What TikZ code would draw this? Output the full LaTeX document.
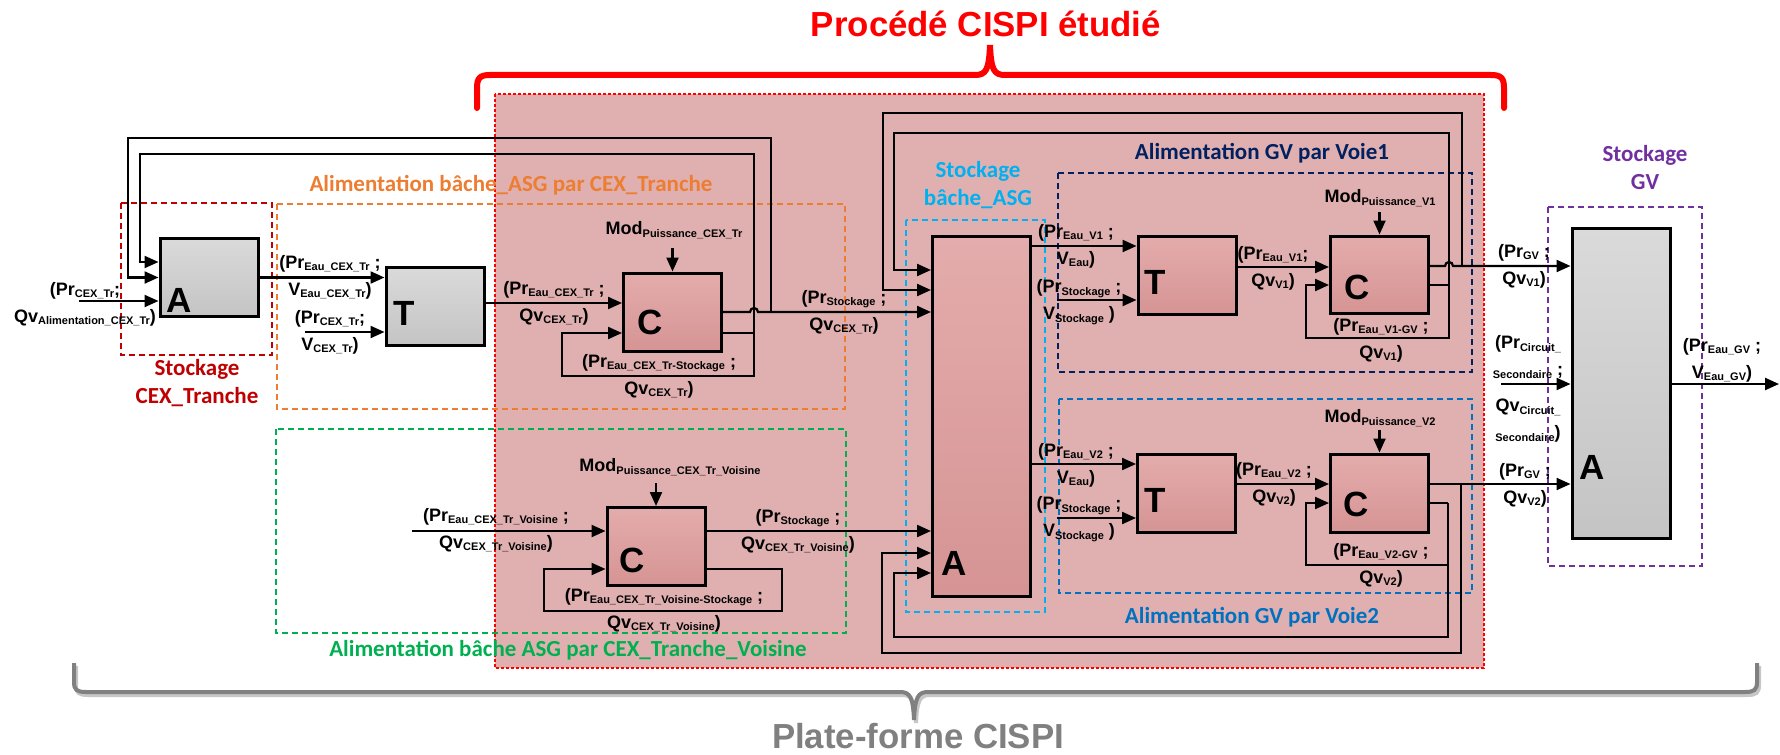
\documentclass[tikz,border=0pt]{standalone}
\usepackage{fontspec}
\setmainfont{Liberation Sans}
\newfontfamily\calibfont{Carlito}
\usetikzlibrary{arrows.meta,calc,positioning}
\definecolor{fondproc}{RGB}{224,176,176}
\definecolor{rougefonce}{RGB}{192,0,0}
\definecolor{orangeasg}{RGB}{237,125,49}
\definecolor{vertvois}{RGB}{0,176,80}
\definecolor{cyanasg}{RGB}{0,176,240}
\definecolor{marinev1}{RGB}{0,32,96}
\definecolor{bleuv2}{RGB}{0,112,192}
\definecolor{violetgv}{RGB}{112,48,160}
\definecolor{grisplat}{RGB}{128,128,128}
\definecolor{grishaut}{RGB}{218,218,218}
\definecolor{grisbas}{RGB}{196,196,196}
\definecolor{rosehaut}{RGB}{228,172,172}
\definecolor{rosebas}{RGB}{214,148,148}

% indice des grandeurs
\newcommand{\sbs}[1]{\raisebox{-1.2pt}{\fontsize{5.5pt}{6pt}\selectfont #1}}

\begin{document}
\begin{tikzpicture}[x=0.5pt, y=-0.5pt,
  bloc/.style={draw=black, line width=1.5pt, minimum width=49pt,
    minimum height=39pt, inner sep=0pt},
  blocgris/.style={bloc, top color=grishaut, bottom color=grisbas},
  blocrose/.style={bloc, top color=rosehaut, bottom color=rosebas},
  lettre/.style={font=\fontsize{17.5}{18}\selectfont\bfseries, inner sep=0pt},
  lien/.style={line width=1.1pt, -{Triangle[length=7pt,width=6pt]}},
  trait/.style={line width=1.1pt},
  etiq/.style={font=\fontsize{9}{13.5}\selectfont\bfseries, align=center,
    inner sep=0pt},
  groupe/.style={line width=1.2pt, dash pattern=on 3pt off 2pt},
  titregrp/.style={font=\calibfont\fontsize{11.5}{14}\selectfont\bfseries,
    align=center, inner sep=0pt},
]
  \useasboundingbox (0,0) rectangle (1780,754);

  % === PROCEDE CISPI ETUDIE ===
  \fill[fondproc] (495,94) rectangle (1484,668);
  \draw[red, line width=1pt, dash pattern=on 1.5pt off 1pt] (495,94) rectangle (1484,668);
  \draw[red, line width=3pt, line cap=round] (477,108) -- (477,88)
    .. controls (477,78) and (480,75) .. (490,75) -- (975,75)
    .. controls (986,75) and (989,70) .. (990,45)
    .. controls (991,70) and (994,75) .. (1005,75) -- (1491,75)
    .. controls (1501,75) and (1504,78) .. (1504,88) -- (1504,108);
  \node[font=\fontsize{17.4}{20}\selectfont\bfseries, text=red, anchor=base]
    (titre) at (986,37) {Procédé CISPI étudié};

  % Groupes (cadres en pointillés)
  \foreach \col/\xa/\ya/\xb/\yb in {rougefonce/121/203/272/355,
      orangeasg/277/204/845/409, vertvois/276/429/846/633,
      cyanasg/906/220/1045/612, marinev1/1058/173/1472/372,
      bleuv2/1059/399/1472/593, violetgv/1548/207/1702/566} {
    \draw[groupe, \col] (\xa,\ya) rectangle (\xb,\yb);
  }
  \node[titregrp, text=rougefonce] (tStockCEX) at (197,383) {Stockage\\CEX\_Tranche};
  \node[titregrp, text=orangeasg] (tAlimCEX) at (511,185) {Alimentation bâche\_ASG par CEX\_Tranche};
  \node[titregrp, text=vertvois] (tAlimVois) at (568,650) {Alimentation bâche ASG par CEX\_Tranche\_Voisine};
  \node[titregrp, text=cyanasg] (tStockASG) at (978,185) {Stockage\\bâche\_ASG};
  \node[titregrp, text=marinev1] (tVoie1) at (1262,153) {Alimentation GV par Voie1};
  \node[titregrp, text=bleuv2] (tVoie2) at (1252,617) {Alimentation GV par Voie2};
  \node[titregrp, text=violetgv] (tStockGV) at (1645,168) {Stockage\\GV};

  % === BLOCS ===
  \node[blocgris] (A1) at (209,277.5) {};
  \node[blocgris] (T1) at (435,306.5) {};
  \node[blocrose] (C1) at (672.5,312) {};
  \node[blocrose] (C4) at (656,546.5) {};
  \node[blocrose, minimum height=180pt] (A2) at (981.5,416) {};
  \node[blocrose] (T2) at (1187,275) {};
  \node[blocrose, minimum height=38.5pt] (C2) at (1379.5,274.5) {};
  \node[blocrose] (T3) at (1186.5,493) {};
  \node[blocrose] (C3) at (1379.5,493) {};
  \node[blocgris, minimum height=155pt] (A3) at (1621,383) {};

  \node[lettre] (lettreA1) at (179,300) {A};
  \node[lettre] (lettreT1) at (404,313) {T};
  \node[lettre] (lettreC1) at (650,322) {C};
  \node[lettre] (lettreC4) at (632,560) {C};
  \node[lettre] (lettreA2) at (954,563) {A};
  \node[lettre] (lettreT2) at (1155,282) {T};
  \node[lettre] (lettreC2) at (1357,287) {C};
  \node[lettre] (lettreT3) at (1155,500) {T};
  \node[lettre] (lettreC3) at (1356,504) {C};
  \node[lettre] (lettreA3) at (1592,467) {A};

  % === LIAISONS ===
  \coordinate (srcA1) at (79,301);
  \coordinate (srcT1) at (305,332);
  \coordinate (srcC4) at (412,531);
  \coordinate (srcT2) at (1057,300);
  \coordinate (srcT3) at (1057,518);
  \coordinate (srcA3) at (1501,384);
  \coordinate (sortie) at (1779,384);
  \coordinate (j1) at (771,312);
  \coordinate (j2) at (754,333);
  \coordinate (j3) at (1462,266);
  \coordinate (j4) at (1449,285);
  \coordinate (j5) at (1461,484);
  \coordinate (j6) at (1448,503);
  \coordinate (j8) at (1448,565);

  % Stockage CEX_Tranche et alimentation
  \draw[lien] (srcA1) -- (A1.west |- srcA1);
  \draw[lien] (A1.east) -- (T1.west |- A1.east);
  \draw[lien] (srcT1) -- (T1.west |- srcT1);
  \draw[lien] (T1.east |- 0,303) -- (C1.west |- 0,303);
  \draw[lien] (C1.north |- 0,248) -- (C1.north);
  \draw[lien] (C1.east) -- (750,312) arc[start angle=180, end angle=0, radius=2pt]
    -- (A2.west |- C1.east);
  \draw[lien] (j1) |- (128,138) |- (A1.west);
  \draw[trait] (C1.east |- j2) -- (j2);
  \draw[lien] (j2) |- (140,154) |- (A1.west |- 0,262);
  \draw[lien] (j2) |- (562,376) |- (C1.west |- j2);

  % Tranche voisine
  \draw[lien] (srcC4) -- (C4.west |- srcC4);
  \draw[lien] (C4.north |- 0,483) -- (C4.north);
  \draw[lien] (C4.east |- 0,531) -- (A2.west |- 0,531);
  \draw[lien] (C4.east |- 0,569) -| (782,611) -| (544,569) -- (C4.west |- 0,569);

  % Voie 1
  \draw[lien] (A2.east |- 0,246) -- (T2.west |- 0,246);
  \draw[lien] (srcT2) -- (T2.west |- srcT2);
  \draw[lien] (T2.east |- 0,267) -- (C2.west |- 0,267);
  \draw[lien] (C2.north |- 0,212) -- (C2.north);
  \draw[lien] (C2.east |- j3) -- (1445,266) arc[start angle=180, end angle=0, radius=2pt]
    -- (A3.west |- j3);
  \draw[lien] (j3) |- (883,113) |- (A2.west |- 0,290);
  \draw[trait] (C2.east |- j4) -- (j4);
  \draw[lien] (j4) |- (894,133) |- (A2.west |- 0,270);
  \draw[lien] (j4) |- (1306,338) |- (C2.west |- j4);

  % Voie 2
  \draw[lien] (A2.east |- 0,464) -- (T3.west |- 0,464);
  \draw[lien] (srcT3) -- (T3.west |- srcT3);
  \draw[lien] (T3.east |- 0,484) -- (C3.west |- 0,484);
  \draw[lien] (C3.north |- 0,430) -- (C3.north);
  \draw[lien] (C3.east |- j5) -- (A3.west |- j5);
  \draw[lien] (j5) |- (882,653) |- (A2.west |- 0,553);
  \draw[trait] (C3.east |- j6) -- (j6);
  \draw[lien] (j6) |- (894,637) |- (A2.west |- 0,573);
  \draw[lien] (j8) -| (1306,503) -- (C3.west |- 0,503);

  % Stockage GV
  \draw[lien] (srcA3) -- (A3.west |- srcA3);
  \draw[lien] (A3.east |- sortie) -- (sortie);

  % === ETIQUETTES ===
  \node[etiq] (lA1in) at (85,304) {(Pr\sbs{CEX\_Tr};\\Qv\sbs{Alimentation\_CEX\_Tr})};
  \node[etiq] (lA1T1) at (330,277) {(Pr\sbs{Eau\_CEX\_Tr} ;\\V\sbs{Eau\_CEX\_Tr})};
  \node[etiq] (lT1in) at (330,332) {(Pr\sbs{CEX\_Tr};\\V\sbs{CEX\_Tr})};
  \node[etiq] (lT1C1) at (554,303) {(Pr\sbs{Eau\_CEX\_Tr} ;\\Qv\sbs{CEX\_Tr})};
  \node[etiq] (lM1) at (674,230) {Mod\sbs{Puissance\_CEX\_Tr}};
  \node[etiq] (lC1r) at (659,376) {(Pr\sbs{Eau\_CEX\_Tr-Stockage} ;\\Qv\sbs{CEX\_Tr})};
  \node[etiq] (lC1A2) at (844,312) {(Pr\sbs{Stockage} ;\\Qv\sbs{CEX\_Tr})};
  \node[etiq] (lC4in) at (496,530) {(Pr\sbs{Eau\_CEX\_Tr\_Voisine} ;\\Qv\sbs{CEX\_Tr\_Voisine})};
  \node[etiq] (lM4) at (670,467) {Mod\sbs{Puissance\_CEX\_Tr\_Voisine}};
  \node[etiq] (lC4A2) at (798,531) {(Pr\sbs{Stockage} ;\\Qv\sbs{CEX\_Tr\_Voisine})};
  \node[etiq] (lC4r) at (664,610) {(Pr\sbs{Eau\_CEX\_Tr\_Voisine-Stockage} ;\\Qv\sbs{CEX\_Tr\_Voisine})};
  \node[etiq] (lA2T2) at (1076,246) {(Pr\sbs{Eau\_V1} ;\\V\sbs{Eau})};
  \node[etiq] (lT2in) at (1079,302) {(Pr\sbs{Stockage} ;\\V\sbs{Stockage} )};
  \node[etiq] (lT2C2) at (1273,268) {(Pr\sbs{Eau\_V1};\\Qv\sbs{V1})};
  \node[etiq] (lM2) at (1380,198) {Mod\sbs{Puissance\_V1}};
  \node[etiq] (lC2r) at (1381,340) {(Pr\sbs{Eau\_V1-GV} ;\\Qv\sbs{V1})};
  \node[etiq] (lA2T3) at (1076,465) {(Pr\sbs{Eau\_V2} ;\\V\sbs{Eau})};
  \node[etiq] (lT3in) at (1079,519) {(Pr\sbs{Stockage} ;\\V\sbs{Stockage} )};
  \node[etiq] (lT3C3) at (1274,484) {(Pr\sbs{Eau\_V2} ;\\Qv\sbs{V2})};
  \node[etiq] (lM3) at (1380,418) {Mod\sbs{Puissance\_V2}};
  \node[etiq] (lC3r) at (1381,565) {(Pr\sbs{Eau\_V2-GV} ;\\Qv\sbs{V2})};
  \node[etiq] (lC2A3) at (1524,266) {(Pr\sbs{GV} ;\\Qv\sbs{V1})};
  \node[etiq] (lsecA) at (1528,357) {(Pr\sbs{Circuit\_}\\\sbs{Secondaire} ;};
  \node[etiq] (lsecB) at (1528,421) {Qv\sbs{Circuit\_}\\\sbs{Secondaire})};
  \node[etiq] (lC3A3) at (1525,485) {(Pr\sbs{GV} ;\\Qv\sbs{V2})};
  \node[etiq] (lA3out) at (1722,360) {(Pr\sbs{Eau\_GV} ;\\V\sbs{Eau\_GV})};

  % === PLATE-FORME CISPI ===
  \draw[grisplat!45, line width=2pt, shift={(2,3)}] (74,663) -- (74,682)
    .. controls (74,690) and (77,692) .. (86,692) -- (900,692)
    .. controls (910,692) and (913,697) .. (914,720)
    .. controls (915,697) and (918,692) .. (928,692) -- (1745,692)
    .. controls (1754,692) and (1757,690) .. (1757,682) -- (1757,663);
  \draw[grisplat, line width=2pt] (74,663) -- (74,682)
    .. controls (74,690) and (77,692) .. (86,692) -- (900,692)
    .. controls (910,692) and (913,697) .. (914,720)
    .. controls (915,697) and (918,692) .. (928,692) -- (1745,692)
    .. controls (1754,692) and (1757,690) .. (1757,682) -- (1757,663);
  \node[font=\fontsize{17.4}{20}\selectfont\bfseries, text=grisplat, anchor=base]
    (plateforme) at (918,748) {Plate-forme CISPI};
\end{tikzpicture}
\end{document}
